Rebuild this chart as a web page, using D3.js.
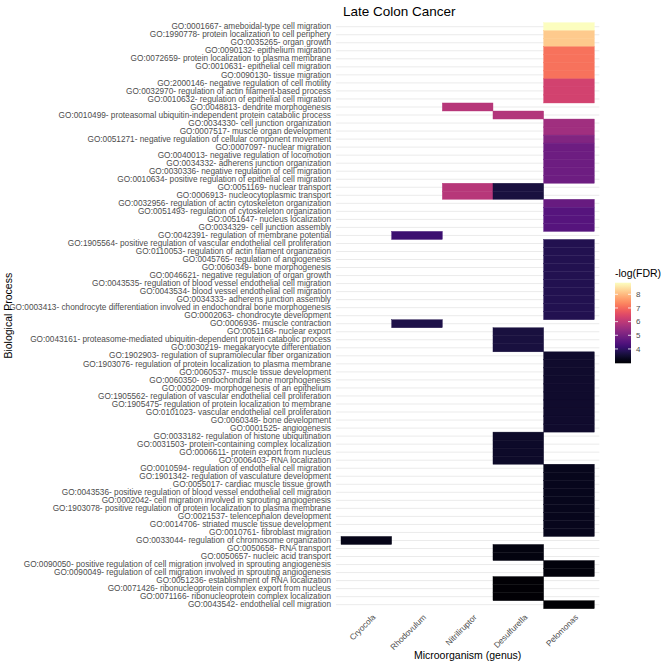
<!DOCTYPE html>
<html>
<head>
<meta charset="utf-8">
<script src="https://cdn.jsdelivr.net/npm/d3@7"></script>
<style>
  html, body { margin: 0; padding: 0; background: #fff; }
  svg { display: block; }
  text { font-family: "Liberation Sans", Arial, Helvetica, sans-serif; }
</style>
</head>
<body>
<svg id="chart" width="669" height="669"></svg>
<script>
const processes = [
  "GO:0001667- ameboidal-type cell migration",
  "GO:1990778- protein localization to cell periphery",
  "GO:0035265- organ growth",
  "GO:0090132- epithelium migration",
  "GO:0072659- protein localization to plasma membrane",
  "GO:0010631- epithelial cell migration",
  "GO:0090130- tissue migration",
  "GO:2000146- negative regulation of cell motility",
  "GO:0032970- regulation of actin filament-based process",
  "GO:0010632- regulation of epithelial cell migration",
  "GO:0048813- dendrite morphogenesis",
  "GO:0010499- proteasomal ubiquitin-independent protein catabolic process",
  "GO:0034330- cell junction organization",
  "GO:0007517- muscle organ development",
  "GO:0051271- negative regulation of cellular component movement",
  "GO:0007097- nuclear migration",
  "GO:0040013- negative regulation of locomotion",
  "GO:0034332- adherens junction organization",
  "GO:0030336- negative regulation of cell migration",
  "GO:0010634- positive regulation of epithelial cell migration",
  "GO:0051169- nuclear transport",
  "GO:0006913- nucleocytoplasmic transport",
  "GO:0032956- regulation of actin cytoskeleton organization",
  "GO:0051493- regulation of cytoskeleton organization",
  "GO:0051647- nucleus localization",
  "GO:0034329- cell junction assembly",
  "GO:0042391- regulation of membrane potential",
  "GO:1905564- positive regulation of vascular endothelial cell proliferation",
  "GO:0110053- regulation of actin filament organization",
  "GO:0045765- regulation of angiogenesis",
  "GO:0060349- bone morphogenesis",
  "GO:0046621- negative regulation of organ growth",
  "GO:0043535- regulation of blood vessel endothelial cell migration",
  "GO:0043534- blood vessel endothelial cell migration",
  "GO:0034333- adherens junction assembly",
  "GO:0003413- chondrocyte differentiation involved in endochondral bone morphogenesis",
  "GO:0002063- chondrocyte development",
  "GO:0006936- muscle contraction",
  "GO:0051168- nuclear export",
  "GO:0043161- proteasome-mediated ubiquitin-dependent protein catabolic process",
  "GO:0030219- megakaryocyte differentiation",
  "GO:1902903- regulation of supramolecular fiber organization",
  "GO:1903076- regulation of protein localization to plasma membrane",
  "GO:0060537- muscle tissue development",
  "GO:0060350- endochondral bone morphogenesis",
  "GO:0002009- morphogenesis of an epithelium",
  "GO:1905562- regulation of vascular endothelial cell proliferation",
  "GO:1905475- regulation of protein localization to membrane",
  "GO:0101023- vascular endothelial cell proliferation",
  "GO:0060348- bone development",
  "GO:0001525- angiogenesis",
  "GO:0033182- regulation of histone ubiquitination",
  "GO:0031503- protein-containing complex localization",
  "GO:0006611- protein export from nucleus",
  "GO:0006403- RNA localization",
  "GO:0010594- regulation of endothelial cell migration",
  "GO:1901342- regulation of vasculature development",
  "GO:0055017- cardiac muscle tissue growth",
  "GO:0043536- positive regulation of blood vessel endothelial cell migration",
  "GO:0002042- cell migration involved in sprouting angiogenesis",
  "GO:1903078- positive regulation of protein localization to plasma membrane",
  "GO:0021537- telencephalon development",
  "GO:0014706- striated muscle tissue development",
  "GO:0010761- fibroblast migration",
  "GO:0033044- regulation of chromosome organization",
  "GO:0050658- RNA transport",
  "GO:0050657- nucleic acid transport",
  "GO:0090050- positive regulation of cell migration involved in sprouting angiogenesis",
  "GO:0090049- regulation of cell migration involved in sprouting angiogenesis",
  "GO:0051236- establishment of RNA localization",
  "GO:0071426- ribonucleoprotein complex export from nucleus",
  "GO:0071166- ribonucleoprotein complex localization",
  "GO:0043542- endothelial cell migration"
];

const genera = ["Cryocola", "Rhodovulum", "Nitriliruptor", "Desulfurella", "Pelomonas"];

// [GO id, -log(FDR)] per genus
const cryocola = [["GO:0033044", 3.22]];
const rhodovulum = [["GO:0042391", 4.13], ["GO:0006936", 3.72]];
const nitriliruptor = [["GO:0048813", 5.9], ["GO:0051169", 5.9], ["GO:0006913", 5.9]];
const desulfurella = [
  ["GO:0010499", 5.85],
  ["GO:0051169", 3.63], ["GO:0006913", 3.63],
  ["GO:0051168", 3.63], ["GO:0043161", 3.63], ["GO:0030219", 3.63],
  ["GO:0033182", 3.39], ["GO:0031503", 3.39], ["GO:0006611", 3.39], ["GO:0006403", 3.39],
  ["GO:0050658", 3.13], ["GO:0050657", 3.13],
  ["GO:0051236", 2.98], ["GO:0071426", 2.98], ["GO:0071166", 2.98]
];
const pelomonas = [
  ["GO:0001667", 8.85],
  ["GO:1990778", 8.2], ["GO:0035265", 8.2],
  ["GO:0090132", 7.1], ["GO:0072659", 7.1], ["GO:0010631", 7.1], ["GO:0090130", 7.1],
  ["GO:2000146", 6.3], ["GO:0032970", 6.3], ["GO:0010632", 6.3],
  ["GO:0034330", 5.6], ["GO:0007517", 5.6],
  ["GO:0051271", 5.15],
  ["GO:0007097", 4.85], ["GO:0040013", 4.85], ["GO:0034332", 4.85], ["GO:0030336", 4.85], ["GO:0010634", 4.85],
  ["GO:0032956", 4.75],
  ["GO:0051493", 4.5], ["GO:0051647", 4.5], ["GO:0034329", 4.5],
  ["GO:1905564", 3.78], ["GO:0110053", 3.78], ["GO:0045765", 3.78], ["GO:0060349", 3.78], ["GO:0046621", 3.78],
  ["GO:0043535", 3.78], ["GO:0043534", 3.78], ["GO:0034333", 3.78], ["GO:0003413", 3.78], ["GO:0002063", 3.78],
  ["GO:1902903", 3.45], ["GO:1903076", 3.45], ["GO:0060537", 3.45], ["GO:0060350", 3.45], ["GO:0002009", 3.45],
  ["GO:1905562", 3.45], ["GO:1905475", 3.45], ["GO:0101023", 3.45], ["GO:0060348", 3.45], ["GO:0001525", 3.45],
  ["GO:0010594", 3.25], ["GO:1901342", 3.25], ["GO:0055017", 3.25], ["GO:0043536", 3.25], ["GO:0002042", 3.25],
  ["GO:1903078", 3.25], ["GO:0021537", 3.25], ["GO:0014706", 3.25], ["GO:0010761", 3.25],
  ["GO:0090050", 3.07], ["GO:0090049", 3.07],
  ["GO:0043542", 2.95]
];

const legendTicks = [4, 5, 6, 7, 8];

const seriesByGenus = {
  Cryocola: cryocola, Rhodovulum: rhodovulum, Nitriliruptor: nitriliruptor,
  Desulfurella: desulfurella, Pelomonas: pelomonas
};
const labelById = {};
processes.forEach(p => { labelById[p.split("-")[0]] = p; });
const cells = [];
genera.forEach(g => seriesByGenus[g].forEach(([id, v]) => cells.push({ genus: g, process: labelById[id], value: v })));

const svg = d3.select("#chart");
const tileTop = 22.7, tileBottom = 608.7;
const tileLeft = 341, tileRight = 594.3;

const x = d3.scaleBand().domain(genera).range([tileLeft, tileRight]).padding(0);
const y = d3.scaleBand().domain(processes).range([tileTop, tileBottom]).padding(0);

const vmin = d3.min(cells, d => d.value), vmax = d3.max(cells, d => d.value);
const color = d3.scaleSequential(d3.interpolateMagma).domain([vmin, vmax]);

const panelLeft = tileLeft - 0.1 * x.bandwidth();
const panelRight = tileRight + 0.1 * x.bandwidth();

// horizontal gridlines
svg.append("g").selectAll("line").data(processes).join("line")
  .attr("x1", panelLeft).attr("x2", panelRight)
  .attr("y1", d => y(d) + y.bandwidth() / 2).attr("y2", d => y(d) + y.bandwidth() / 2)
  .attr("stroke", "#ebebeb").attr("stroke-width", 1);

// tiles
svg.append("g").selectAll("rect").data(cells).join("rect")
  .attr("x", d => x(d.genus)).attr("y", d => y(d.process))
  .attr("width", x.bandwidth()).attr("height", y.bandwidth())
  .attr("fill", d => color(d.value))
  .attr("stroke", d => color(d.value)).attr("stroke-width", 0.4);

const fontStack = '"Liberation Sans", Arial, sans-serif';

// y axis labels
const yAxis = d3.axisLeft(y).tickSize(0).tickPadding(0);
const gy = svg.append("g").attr("transform", `translate(${tileLeft - 10},0)`).call(yAxis);
gy.select(".domain").remove();
gy.selectAll("text").attr("fill", "#4d4d4d").style("font-size", "8.25px")
  .style("font-family", fontStack);

// x axis labels
const xAxis = d3.axisBottom(x).tickSize(0).tickPadding(0);
const gx = svg.append("g").attr("transform", `translate(0,${tileBottom + 10})`).call(xAxis);
gx.select(".domain").remove();
gx.selectAll("text")
  .attr("fill", "#4d4d4d").style("font-size", "8.25px")
  .style("font-family", fontStack)
  .attr("text-anchor", "end").attr("y", 0).attr("dy", "0.75em").attr("dx", "0.9em")
  .attr("transform", "rotate(-45)");

// title
svg.append("text").attr("x", tileLeft + 2).attr("y", 16)
  .attr("font-size", "13.5px").attr("fill", "#000").text("Late Colon Cancer");

// axis titles
svg.append("text").attr("x", (panelLeft + panelRight) / 2).attr("y", 659)
  .attr("text-anchor", "middle").attr("font-size", "10.5px").attr("fill", "#000")
  .text("Microorganism (genus)");
svg.append("text").attr("transform", `translate(12,${(tileTop + tileBottom) / 2}) rotate(-90)`)
  .attr("text-anchor", "middle").attr("font-size", "10.5px").attr("fill", "#000")
  .text("Biological Process");

// legend
const legX = 615, legTop = 282.7, legBottom = 363.3, legW = 16;
const lg = svg.append("defs").append("linearGradient").attr("id", "lgrad")
  .attr("x1", 0).attr("y1", 1).attr("x2", 0).attr("y2", 0);
d3.range(0, 1.0001, 0.05).forEach(t => {
  lg.append("stop").attr("offset", t).attr("stop-color", d3.interpolateMagma(t));
});
svg.append("text").attr("x", legX).attr("y", legTop - 6)
  .attr("font-size", "10.5px").attr("fill", "#000").text("-log(FDR)");
svg.append("rect").attr("x", legX).attr("y", legTop).attr("width", legW)
  .attr("height", legBottom - legTop).attr("fill", "url(#lgrad)");
const ly = d3.scaleLinear().domain([vmin, vmax]).range([legBottom, legTop]);
const lt = svg.append("g");
legendTicks.forEach(v => {
  lt.append("line").attr("x1", legX).attr("x2", legX + 3).attr("y1", ly(v)).attr("y2", ly(v))
    .attr("stroke", "#fff").attr("stroke-width", 0.8);
  lt.append("line").attr("x1", legX + legW - 3).attr("x2", legX + legW).attr("y1", ly(v)).attr("y2", ly(v))
    .attr("stroke", "#fff").attr("stroke-width", 0.8);
  lt.append("text").attr("x", legX + legW + 5).attr("y", ly(v)).attr("dy", "0.35em")
    .attr("font-size", "8px").attr("fill", "#4d4d4d").text(v);
});
</script>
</body>
</html>
